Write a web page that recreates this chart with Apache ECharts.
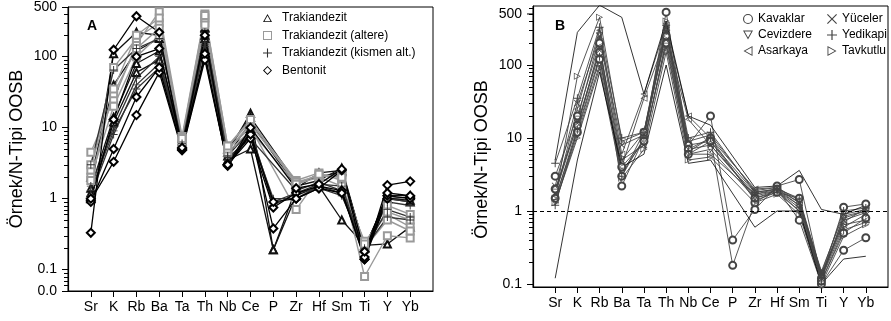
<!DOCTYPE html>
<html><head><meta charset="utf-8">
<script src="https://cdn.jsdelivr.net/npm/echarts@6.0.0/dist/echarts.min.js"></script>
<style>html,body{margin:0;padding:0;background:#fff}#c{width:891px;height:321px}</style>
</head><body><div id="c"></div>
<script>
// ---------- DATA ----------
const elements = ['Sr','K','Rb','Ba','Ta','Th','Nb','Ce','P','Zr','Hf','Sm','Ti','Y','Yb'];
const yAxisTitle = 'Örnek/N-Tipi OOSB';
const extraTickB = [500];
const minorMultipliers = [2, 3, 4, 5, 6, 7, 8, 9];

// Panel A
const trakiandezit = [
  [1.2, 110, 220, 200, 6.5, 250, 4.5, 16, 0.19, 1.1, 1.5, 0.5, 0.22, 0.23, 0.4],
  [1.0, 12, 60, 90, 5.5, 180, 3.5, 5, 0.19, 1.4, 2.3, 2.5, 0.2, 1.0, 0.9],
  [1.4, 14, 80, 120, 6, 200, 4, 12, null, 1.5, 1.8, 2.7, 0.2, 1.1, 1.1],
  [2.0, 40, 120, 180, 7, 260, 5, 14, null, 1.7, 2.0, 2.4, 0.21, 1.0, 0.95]
];
const trakiandezitAltere = [
  [4.5, 25, 150, 430, 7.5, 400, 5.5, 12, null, 1.8, 2.3, 1.8, 0.08, 0.3, 0.28],
  [2.5, 70, 180, 300, 6.5, 350, 5, 10, null, 0.7, 2.0, 1.5, 0.25, 0.6, 0.4],
  [2.0, 20, 100, 200, 6, 300, 4.5, 9, null, 1.6, 2.0, 2.2, 0.22, 0.8, 0.6],
  [3.0, 30, 130, 250, 7, 280, 5, 11, null, 1.7, 2.1, 2.0, 0.2, 0.5, 0.35],
  [1.8, 35, 200, 350, 7, 380, 5.5, 13, null, 1.6, 2.2, 2.0, 0.23, 0.65, 0.5]
];
const trakiandezitKismen = [
  [3.0, 65, 130, 180, 6, 220, 4, 9, 0.8, 1.2, 1.6, 1.5, 0.18, 0.9, 0.8],
  [1.5, 10, 50, 100, 5, 160, 3.5, 8, 1.0, 1.0, 1.5, 1.2, 0.17, 1.0, 0.9],
  [1.1, 8, 40, 80, 5.5, 140, 3.8, 7, null, 1.3, 1.7, 1.3, 0.19, 0.7, 0.55],
  [1.3, 9, 35, 70, 5, 150, 3.2, 9, 0.9, 1.2, 1.4, 1.1, 0.2, 0.55, 0.5]
];
const bentonit = [
  [0.33, 125, 370, 220, 5, 100, 3, 8.5, 0.38, 1.0, 1.4, 2.5, 0.14, 1.55, 1.75],
  [0.95, 3.3, 15, 60, 4.8, 90, 3, 7, 0.75, 1.2, 1.5, 1.3, 0.14, 1.0, 1.05],
  [0.9, 5, 27, 70, 5, 110, 2.9, 8, 0.9, 1.0, 1.4, 1.2, 0.15, 1.1, 1.0],
  [1.0, 13, 100, 130, 5.2, 200, 3.0, 10, null, 1.4, 1.6, 2.6, 0.18, 1.2, 1.1]
];

// Panel B
const kavaklar = [
  [3.0, 20, 200, 2.2, 10, 530, 8, 20, 0.4, 1.05, 2.2, 2.7, 0.12, 1.13, 1.25],
  [2.0, 15, 150, 3, 12, 250, 7, 10, 0.18, 1.3, 2.0, 0.75, 0.1, 0.29, 0.43],
  [1.5, 12, 120, 4, 9, 200, 6, 9, null, 1.5, 1.8, 1.5, 0.11, 0.5, 0.8]
];
const cevizdere = [
  [1.8, 18, 250, 5, 12, 300, 8, 9, null, 1.8, 2.0, 1.3, 0.13, 0.8, 1.0],
  [1.3, 11, 100, 3.5, 9, 180, 6, 7, null, 1.5, 1.9, 1.0, 0.12, 0.6, 0.9]
];
const asarkaya = [
  [1.6, 25, 300, 6, 40, 350, 20, 10, null, 2.0, 2.1, 1.4, 0.14, 0.7, 1.1],
  [1.4, 14, 180, 4, 35, 250, 18, 8, null, 1.7, 2.0, 1.2, 0.13, 0.65, 0.75]
];
const yuceler = [
  [2.2, 30, 250, 8, 11, 280, 9, 11, null, 1.9, 2.1, 1.3, 0.15, 0.9, 1.05],
  [1.7, 16, 160, 5, 8, 220, 7, 8, null, 1.6, 1.9, 1.1, 0.12, 0.75, 0.95]
];
const yedikapi = [
  [4.5, 35, 330, 10, 12, 350, 10, 12, null, 1.8, 2.0, 1.5, 0.14, 1.0, 1.1],
  [1.2, 13, 130, 3, 10, 300, 6.5, 10, null, 1.4, 1.8, 1.0, 0.11, 0.55, 0.7]
];
const tavkutlu = [
  [1.5, 70, 450, 9, 12, 400, 6, 6, null, 1.7, 1.9, 1.2, 0.12, 0.85, 1.0],
  [1.3, 10, 90, 2.8, 7, 150, 5, 5.5, null, 1.3, 1.7, 0.9, 0.1, 0.45, 0.65]
];
const envelopeUpper = [5, 280, 660, 450, 40, 400, 20, 15, null, 2.1, 2.2, 3.6, 1.05, 0.9, 1.2];
const envelopeLower = [0.12, 5, 80, 4, 6, 100, 4.5, 5, null, 0.6, 1.0, 1.0, 0.1, 0.22, 0.24];

// ---------- STYLE ----------
const FONT = 'Liberation Sans, Arial, sans-serif';
const GA = {left: 68, top: 5, width: 365, height: 286};
const GB = {left: 533, top: 6, width: 356, height: 281};
const RANGE_A = [0.05, 500];
const RANGE_B = [0.091, 643];
const P_PLUS = 'path://M4.4,0H5.6V4.4H10V5.6H5.6V10H4.4V5.6H0V4.4H4.4Z';
const P_X = 'path://M0.8,0L5,4.2L9.2,0L10,0.8L5.8,5L10,9.2L9.2,10L5,5.8L0.8,10L0,9.2L4.2,5L0,0.8Z';
const P_DOWN = 'path://M0,0L10,0L5,9ZM1.6,0.9L5,7L8.4,0.9Z';
const P_LEFT = 'path://M0,5L9,0L9,10ZM1.7,5L8.1,8.6L8.1,1.4Z';
const P_RIGHT = 'path://M10,5L1,10L1,0ZM8.3,5L1.9,1.4L1.9,8.6Z';
const P_UP = 'path://M5,0L10,9L0,9ZM5,2L1.6,8.1L8.4,8.1Z';
const P_RECT = 'path://M0,0H10V10H0ZM1.1,1.1V8.9H8.9V1.1Z';
const P_DIAM = 'path://M5,0L10,5L5,10L0,5ZM5,1.5L1.5,5L5,8.5L8.5,5Z';
const P_CIRC = 'path://M5,0A5,5,0,1,1,5,10A5,5,0,1,1,5,0ZM5,1.1A3.9,3.9,0,1,0,5,8.9A3.9,3.9,0,1,0,5,1.1Z';

const axisCats = [''].concat(elements, ['']);
function toData(arr){ return ['-'].concat(arr.map(v => v == null ? '-' : v), ['-']); }

function makeSeries(panel, name, rows, symbol, color, lw, size){
  const isEmpty = symbol.indexOf('empty') === 0;
  return rows.map(r => ({
    type: 'line', name: name, xAxisIndex: panel, yAxisIndex: panel,
    data: toData(r), connectNulls: true, symbol: symbol, symbolSize: size,
    lineStyle: {color: color, width: lw},
    itemStyle: {color: color, borderColor: color, borderWidth: isEmpty ? 1 : 0},
    emphasis: {disabled: true}, animation: false, z: 3
  }));
}

const series = [].concat(
  makeSeries(0, 'Trakiandezit', trakiandezit, 'emptyTriangle', '#111', 1.3, 7),
  makeSeries(0, 'Trakiandezit (altere)', trakiandezitAltere, 'emptyRect', '#9a9a9a', 1.4, 7),
  makeSeries(0, 'Trakiandezit (kismen alt.)', trakiandezitKismen, P_PLUS, '#333', 1.3, 8),
  makeSeries(0, 'Bentonit', bentonit, 'emptyDiamond', '#000', 1.3, 8),
  makeSeries(1, 'Kavaklar', kavaklar, 'emptyCircle', '#444', 0.9, 7),
  makeSeries(1, 'Cevizdere', cevizdere, P_DOWN, '#444', 0.9, 7),
  makeSeries(1, 'Asarkaya', asarkaya, P_LEFT, '#444', 0.9, 7),
  makeSeries(1, 'Yüceler', yuceler, P_X, '#444', 0.9, 7),
  makeSeries(1, 'Yedikapi', yedikapi, P_PLUS, '#444', 0.9, 8),
  makeSeries(1, 'Tavkutlu', tavkutlu, P_RIGHT, '#444', 0.9, 7),
  [{type:'line', name:'envU', xAxisIndex:1, yAxisIndex:1, data: toData(envelopeUpper), connectNulls:true,
    symbol:'none', lineStyle:{color:'#000', width:0.8}, animation:false,
    markLine:{silent:true, symbol:'none', label:{show:false}, animation:false,
      lineStyle:{type:[4,3], color:'#000', width:1}, data:[{yAxis:1}]}},
   {type:'line', name:'envL', xAxisIndex:1, yAxisIndex:1, data: toData(envelopeLower), connectNulls:true,
    symbol:'none', lineStyle:{color:'#000', width:0.8}, animation:false}]
);

function xAxis(gi){
  return {type:'category', gridIndex: gi, data: axisCats, boundaryGap: false,
    axisLine:{lineStyle:{color:'#000', width:1.2}},
    axisTick:{show:true, length:6, interval:(i)=> i>0 && i<axisCats.length-1, lineStyle:{color:'#000'}},
    axisLabel:{interval:0, margin:9, fontSize:14, fontFamily:FONT, color:'#000'},
    splitLine:{show:false}};
}
function yAxis(gi, range, showEnds, nameGap, namePad){
  return {type:'log', gridIndex: gi, min:range[0], max:range[1], logBase:10,
    name: yAxisTitle, nameLocation:'middle', nameGap: nameGap,
    nameTextStyle:{fontSize:18, fontFamily:FONT, color:'#000', padding: namePad},
    axisLine:{show:true, lineStyle:{color:'#000', width:1.2}},
    axisTick:{show:true, length:6, lineStyle:{color:'#000'}},
    axisLabel:{margin:11, fontSize:14, fontFamily:FONT, color:'#000', showMinLabel: showEnds, showMaxLabel: showEnds,
      formatter: v => v < 0.09 ? '0.0' : (v >= 1 ? String(Math.round(v)) : String(+v.toPrecision(2)))},
    splitLine:{show:false}, minorSplitLine:{show:false}};
}

const iconFill = {borderWidth: 0};
const legendText = {fontSize:12, fontFamily:FONT, color:'#000', lineHeight:12};

const option = {
  animation: false,
  backgroundColor: '#fff',
  textStyle: {fontFamily: FONT},
  title: [
    {text:'A', left: 82, top: 14, textStyle:{fontSize:14, fontWeight:'bold', fontFamily:FONT, color:'#000'}},
    {text:'B', left: 550, top: 14, textStyle:{fontSize:14, fontWeight:'bold', fontFamily:FONT, color:'#000'}}
  ],
  grid: [
    Object.assign({show:true, borderColor:'#000', borderWidth:1, backgroundColor:'transparent'}, GA),
    Object.assign({show:true, borderColor:'#000', borderWidth:1, backgroundColor:'transparent'}, GB)
  ],
  xAxis: [xAxis(0), xAxis(1)],
  yAxis: [yAxis(0, RANGE_A, true, 42, [0,0,0,0]), yAxis(1, RANGE_B, false, 42, [0,26,0,0])],
  legend: [
    {data:[{name:'Trakiandezit', icon:P_UP, itemStyle:iconFill},
           {name:'Trakiandezit (altere)', icon:P_RECT, itemStyle:iconFill},
           {name:'Trakiandezit (kismen alt.)', icon:P_PLUS, itemStyle:iconFill},
           {name:'Bentonit', icon:P_DIAM, itemStyle:iconFill}],
     orient:'vertical', left: 258, top: 7, itemWidth: 9, itemHeight: 9, itemGap: 5.5,
     textStyle:Object.assign({padding:[0,0,0,5]}, legendText), selectedMode:false},
    {data:[{name:'Kavaklar', icon:P_CIRC, itemStyle:iconFill},
           {name:'Cevizdere', icon:P_DOWN, itemStyle:iconFill},
           {name:'Asarkaya', icon:P_LEFT, itemStyle:iconFill}],
     orient:'vertical', left: 738, top: 8, itemWidth: 10, itemHeight: 10, itemGap: 4,
     textStyle:legendText, selectedMode:false},
    {data:[{name:'Yüceler', icon:P_X, itemStyle:iconFill},
           {name:'Yedikapi', icon:P_PLUS, itemStyle:iconFill},
           {name:'Tavkutlu', icon:P_RIGHT, itemStyle:iconFill}],
     orient:'vertical', left: 822, top: 8, itemWidth: 10, itemHeight: 10, itemGap: 4,
     textStyle:legendText, selectedMode:false}
  ],
  series: series
};

const chart = echarts.init(document.getElementById('c'), null, {renderer:'canvas'});
chart.setOption(option);

// extra labelled tick (500) on panel B and log minor ticks, positioned through the axis scale
const graphics = [];
extraTickB.forEach(v => {
  const y = chart.convertToPixel({yAxisIndex:1}, v);
  graphics.push({type:'text', x: GB.left - 11, y: y, silent:true,
    style:{text:String(v), align:'right', verticalAlign:'middle', fontSize:14, fontFamily:FONT, fill:'#000'}});
  graphics.push({type:'line', silent:true, shape:{x1:GB.left-6, y1:y, x2:GB.left, y2:y}, style:{stroke:'#000', lineWidth:1}});
});
[[0, GA, RANGE_A], [1, GB, RANGE_B]].forEach(([ai, g, rng]) => {
  for (let d = -2; d <= 2; d++) {
    minorMultipliers.forEach(m => {
      const v = m * Math.pow(10, d);
      if (v <= rng[0] || v >= rng[1]) return;
      const y = Math.round(chart.convertToPixel({yAxisIndex: ai}, v)) + 0.5;
      graphics.push({type:'line', silent:true, z: 10, shape:{x1:g.left-4, y1:y, x2:g.left, y2:y}, style:{stroke:'#000', lineWidth:1}});
    });
  }
});
chart.setOption({graphic: graphics});
</script>
</body></html>
